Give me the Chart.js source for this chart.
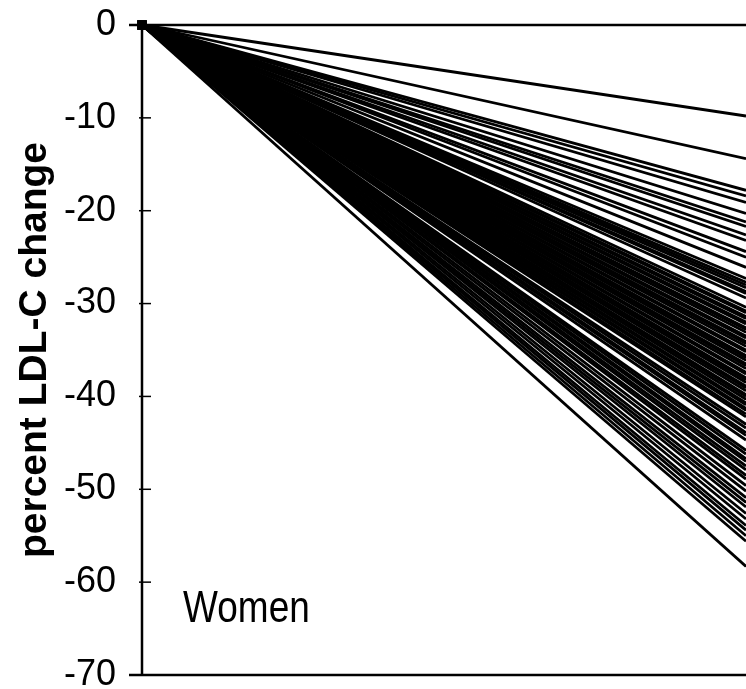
<!DOCTYPE html>
<html>
<head>
<meta charset="utf-8">
<script src="https://cdn.jsdelivr.net/npm/chart.js@4/dist/chart.umd.min.js"></script>
<style>
  html, body { margin: 0; padding: 0; background: #fff; }
  #wrap { width: 746px; height: 689px; position: relative; }
</style>
</head>
<body>
<div id="wrap"><canvas id="c" width="746" height="689"></canvas></div>
<script>
// Time points (baseline, follow-up) and each woman's percent LDL-C change at follow-up
const timePoints = [0, 1];
const baselineChange = 0;
const followUpChange = [
  -9.8, -14.4, -17.8, -18.4, -19.1, -20.3, -21.2, -21.7, -22.6, -23.2,
  -24.4, -25.0, -26.1, -27.3, -27.7, -28.0, -28.3, -28.7, -28.9, -29.4,
  -30.4, -30.8, -31.0, -31.4, -31.6, -32.0, -32.2, -32.6, -32.8, -33.1,
  -33.5, -33.7, -34.1, -34.3, -34.6, -35.0, -35.2, -35.6, -35.8, -36.1,
  -36.5, -36.7, -37.0, -37.4, -37.6, -38.0, -38.2, -38.5, -38.9, -39.1,
  -39.4, -39.8, -40.0, -40.3, -40.7, -40.9, -41.3, -41.5, -41.9, -42.2,
  -43.0, -43.4, -43.9, -44.2, -44.7, -45.8, -46.2, -46.7, -47.0, -47.5,
  -47.9, -48.5, -48.9, -49.6, -50.2, -50.9, -51.4, -51.9, -52.6, -53.2,
  -53.9, -54.4, -55.0, -55.6, -58.3
];
const yTicks = [0, -10, -20, -30, -40, -50, -60, -70];
const yTitle = 'percent LDL-C change';
const panelLabel = 'Women';

const datasets = followUpChange.map(v => ({
  data: [{x: timePoints[0], y: baselineChange}, {x: timePoints[1], y: v}],
  borderColor: '#000',
  backgroundColor: '#000',
  borderWidth: 2.8,
  pointRadius: ctx => ctx.dataIndex === 0 ? 4 : 0,
  pointHoverRadius: 0,
  pointStyle: 'rect',
  fill: false,
  tension: 0,
  clip: 8
}));

const framePlugin = {
  id: 'frame',
  afterDraw(chart) {
    const ctx = chart.ctx;
    const a = chart.chartArea;
    const y = chart.scales.y;
    ctx.save();
    ctx.strokeStyle = '#000';
    ctx.lineWidth = 1.5;
    yTicks.forEach(t => {
      const py = y.getPixelForValue(t);
      ctx.beginPath();
      ctx.moveTo(a.left - 3, py);
      ctx.lineTo(a.left + 9, py);
      ctx.stroke();
    });
    ctx.lineWidth = 2.5;
    [y.max, y.min].forEach(t => {
      const py = y.getPixelForValue(t);
      ctx.beginPath();
      ctx.moveTo(a.left - 13, py);
      ctx.lineTo(a.right, py);
      ctx.stroke();
    });
    ctx.beginPath();
    ctx.moveTo(a.left, a.top);
    ctx.lineTo(a.left, a.bottom);
    ctx.stroke();
    // panel label (slightly condensed, like the original typeface)
    ctx.fillStyle = '#000';
    ctx.font = '44px "Liberation Sans", Arial, sans-serif';
    ctx.textAlign = 'left';
    ctx.textBaseline = 'middle';
    const lx = chart.scales.x.getPixelForValue(0.068);
    const ly = y.getPixelForValue(-63.0);
    ctx.translate(lx, ly);
    ctx.scale(0.84, 1);
    ctx.fillText(panelLabel, 0, 0);
    ctx.restore();
  }
};

new Chart(document.getElementById('c'), {
  type: 'line',
  data: { datasets },
  options: {
    responsive: false,
    animation: false,
    layout: { autoPadding: false, padding: { top: 25, right: 0, bottom: 14, left: 0 } },
    plugins: { legend: { display: false }, tooltip: { enabled: false } },
    scales: {
      x: {
        type: 'linear', min: 0, max: 1,
        display: false
      },
      y: {
        type: 'linear', min: -70, max: 0,
        afterBuildTicks: s => { s.ticks = yTicks.map(v => ({ value: v })); },
        border: { display: false },
        grid: { drawOnChartArea: false, drawTicks: false },
        ticks: {
          color: '#000',
          padding: 26,
          font: { family: '"Liberation Sans", Arial, sans-serif', size: 36 }
        },
        title: {
          display: true,
          text: yTitle,
          color: '#000',
          padding: { top: 12, bottom: 0 },
          font: { family: '"Liberation Sans", Arial, sans-serif', size: 39, weight: 'bold' }
        },
        afterFit: s => { s.width = 142; },
        afterUpdate: s => { s.paddingTop = 0; s.paddingBottom = 0; }
      }
    }
  },
  plugins: [framePlugin]
});
</script>
</body>
</html>
